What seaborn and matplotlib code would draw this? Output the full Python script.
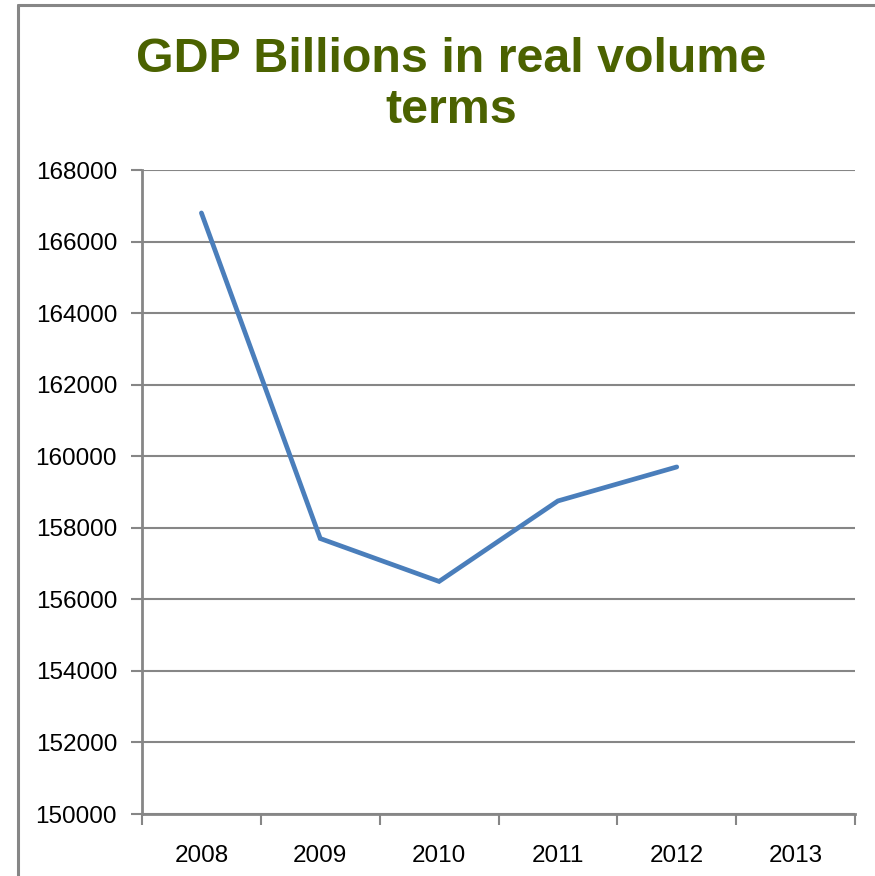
import matplotlib
matplotlib.use("Agg")
import matplotlib.pyplot as plt
from matplotlib.lines import Line2D
from matplotlib.ticker import FixedLocator, NullFormatter
import seaborn as sns
import pandas as pd

# Real GDP (billions, volume terms) by year
years = ["2008", "2009", "2010", "2011", "2012", "2013"]
gdp = [166800, 157700, 156500, 158750, 159700]
y_ticks = list(range(150000, 168001, 2000))

df = pd.DataFrame({"pos": list(range(len(gdp))), "gdp": gdp})

sns.set_theme(style="white")
plt.rcParams["font.family"] = ["Liberation Sans", "DejaVu Sans"]

grid_col = "#868686"
fig = plt.figure(figsize=(8.75, 8.76), dpi=100)
ax = fig.add_axes([142 / 875, 62 / 876, 713 / 875, 644 / 876])

sns.lineplot(data=df, x="pos", y="gdp", ax=ax, color="#4A7EBB", linewidth=3.4,
             solid_capstyle="round", solid_joinstyle="miter")

ax.set_xlim(-0.5, len(years) - 0.5)
ax.set_ylim(y_ticks[0], y_ticks[-1])
ax.set_xlabel("")
ax.set_ylabel("")

# category labels centred, tick marks on category boundaries
ax.set_xticks(range(len(years)))
ax.set_xticklabels(years, fontsize=17.5, color="black")
ax.tick_params(axis="x", which="major", length=0, pad=22)
ax.xaxis.set_minor_locator(FixedLocator([i - 0.5 for i in range(len(years) + 1)]))
ax.xaxis.set_minor_formatter(NullFormatter())
ax.tick_params(axis="x", which="minor", length=8, width=1.5, color=grid_col, direction="out", bottom=True)

ax.set_yticks(y_ticks)
ax.set_yticklabels([str(v) for v in y_ticks], fontsize=17.5, color="black")
ax.tick_params(axis="y", length=8, width=1.5, color=grid_col, direction="out", left=True, pad=10)

ax.yaxis.grid(True, color=grid_col, linewidth=1.5)
ax.xaxis.grid(False)
ax.set_axisbelow(True)
for side in ("top", "right"):
    ax.spines[side].set_visible(False)
for side in ("left", "bottom"):
    ax.spines[side].set_color(grid_col)
    ax.spines[side].set_linewidth(2.0)

# chart-area border (left and top edges)
fig.add_artist(Line2D([18 / 875, 18 / 875], [0, 871 / 876], color=grid_col, linewidth=2.2,
                      transform=fig.transFigure))
fig.add_artist(Line2D([18 / 875, 1], [871 / 876, 871 / 876], color=grid_col, linewidth=2.2,
                      transform=fig.transFigure))

title_col = "#4B6200"
fig.text(451 / 875, 1 - 72 / 876, "GDP Billions in real volume", ha="center", va="baseline",
         fontsize=34.8, fontweight="bold", color=title_col)
fig.text(451 / 875, 1 - 123 / 876, "terms", ha="center", va="baseline",
         fontsize=34.8, fontweight="bold", color=title_col)

fig.savefig("out.png", dpi=100, facecolor="white")
